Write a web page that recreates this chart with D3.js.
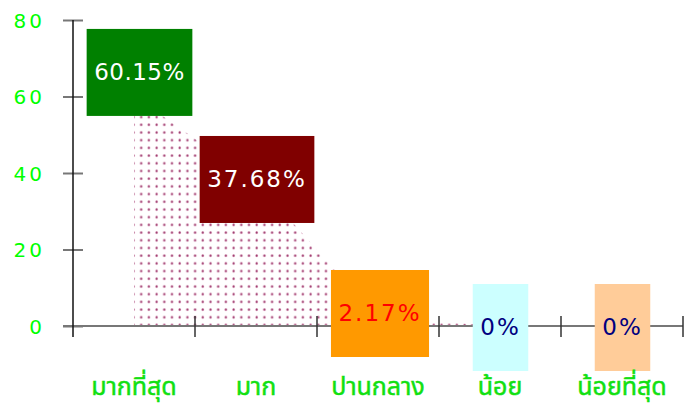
<!DOCTYPE html>
<html>
<head>
<meta charset="utf-8">
<script src="https://cdn.jsdelivr.net/npm/d3@7"></script>
<style>
  html, body { margin: 0; padding: 0; background: #fff; }
  svg { display: block; }
</style>
</head>
<body>
<svg id="chart" width="698" height="405"></svg>
<script>
// ---- data ----
const categories = ["มากที่สุด", "มาก", "ปานกลาง", "น้อย", "น้อยที่สุด"];
const values = [60.15, 37.68, 2.17, 0, 0];
const valueLabels = ["60.15%", "37.68%", "2.17%", "0%", "0%"];
const yTickValues = [0, 20, 40, 60, 80];

// ---- styling / layout (not data) ----
const boxFills = ["#008000", "#800000", "#ff9900", "#ccffff", "#ffcc99"];
const textFills = ["#ffffff", "#ffffff", "#ff0000", "#000080", "#000080"];
const boxNudgeX = [5.5, 1, 2, 0.5, 0.5];
const boxNudgeY = [-23.5, -2.4, -4.2, 1.5, 1.5];

const svg = d3.select("#chart");
const x = d3.scaleBand().domain(categories).range([73, 683]).padding(0);
const y = d3.scaleLinear().domain([0, 80]).range([326, 20]);
const bw = x.bandwidth();
const cx = c => x(c) + bw / 2;

// pattern
const defs = svg.append("defs");
const pat = defs.append("pattern")
  .attr("id", "dots").attr("patternUnits", "userSpaceOnUse")
  .attr("width", 7.7).attr("height", 7.7);
pat.append("circle").attr("cx", 2.6).attr("cy", 1.6).attr("r", 1.5).attr("fill", "#ecc4d6");
pat.append("circle").attr("cx", 2.6).attr("cy", 1.6).attr("r", 1.0).attr("fill", "#9c3a6e");

// area
const rows = categories.map((c, i) => ({c, v: values[i]}));
const area = d3.area().x(d => cx(d.c)).y0(y(0)).y1(d => y(d.v));
svg.append("path").datum(rows).attr("d", area).attr("fill", "url(#dots)");

// y axis
const yAxis = d3.axisLeft(y).tickValues(yTickValues).tickSize(0).tickPadding(0);
const gy = svg.append("g").attr("transform", "translate(73,0)").call(yAxis);
gy.select(".domain").remove();
gy.selectAll(".tick line").attr("x1", -10).attr("x2", 10)
  .attr("stroke", "#777").attr("stroke-width", 2);
gy.selectAll(".tick text")
  .attr("x", -28).attr("dy", "0.36em")
  .attr("fill", "#00ff00")
  .style("font-family", "'DejaVu Sans', sans-serif")
  .style("font-size", "20px")
  .style("letter-spacing", "3px")
  .attr("text-anchor", "end");

// x axis line
svg.append("line").attr("x1", 63).attr("x2", 683).attr("y1", y(0)).attr("y2", y(0))
  .attr("stroke", "#777").attr("stroke-width", 2);
// y axis line
svg.append("line").attr("x1", 73).attr("x2", 73).attr("y1", y(80)).attr("y2", y(0) + 11)
  .attr("stroke", "#111").attr("stroke-width", 1.5);
// x ticks at band edges
svg.selectAll(".xtick").data(categories).enter().append("line")
  .attr("class", "xtick")
  .attr("x1", d => x(d) + bw).attr("x2", d => x(d) + bw)
  .attr("y1", y(0) - 10).attr("y2", y(0) + 11)
  .attr("stroke", "#333").attr("stroke-width", 1.5);

// value boxes
const lab = svg.selectAll(".lab").data(rows).enter().append("g").attr("class", "lab");
lab.each(function(d, i) {
  const g = d3.select(this);
  const ccx = cx(d.c) + boxNudgeX[i];
  const ccy = y(d.v) + boxNudgeY[i];
  const rect = g.append("rect");
  const t = g.append("text")
    .attr("x", ccx).attr("y", ccy + 7.5)
    .attr("text-anchor", "middle")
    .attr("fill", textFills[i])
    .style("font-family", "'DejaVu Sans', sans-serif")
    .style("font-size", "23px")
    .style("letter-spacing", i === 0 ? "0.5px" : "2px")
    .text(valueLabels[i]);
  const w = t.node().getComputedTextLength() + 15;
  rect.attr("x", ccx - w / 2).attr("y", ccy - 43.5).attr("width", w).attr("height", 87)
    .attr("fill", boxFills[i]);
});

// category labels
svg.selectAll(".cat").data(categories).enter().append("text")
  .attr("class", "cat")
  .attr("x", d => cx(d)).attr("y", 395)
  .attr("text-anchor", "middle")
  .attr("fill", "#11e011")
  .attr("stroke", "#11e011")
  .attr("stroke-width", 0.5)
  .style("font-family", "'Noto Sans Thai', 'Tahoma', 'Noto Sans', sans-serif")
  .style("font-size", "25px")
  .style("font-weight", "normal")
  .text(d => d);
</script>
</body>
</html>
